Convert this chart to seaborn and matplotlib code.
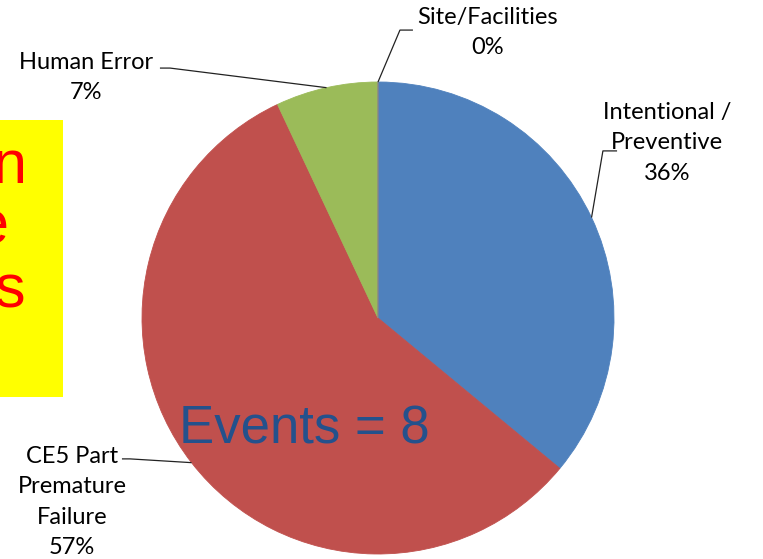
import numpy as np
import matplotlib
matplotlib.use("Agg")
import matplotlib.pyplot as plt
from matplotlib.patches import Rectangle
import seaborn as sns

# ---- data ----
categories = ["Intentional /\nPreventive", "CE5 Part\nPremature\nFailure", "Human Error", "Site/Facilities"]
percents = [36, 57, 7, 0]
events_label = "Events = 8"
side_letters = ["n", "e", "s"]

# ---- style ----
sns.set_theme(style="white")
plt.rcParams['font.family'] = ['Lato', 'DejaVu Sans']
colors = ["#4F81BD", "#C0504D", "#9BBB59", "#8064A2"]

W, H = 763, 559
fig = plt.figure(figsize=(W / 100, H / 100), dpi=100)
fig.patch.set_facecolor("white")

# axes covering whole figure; pie centre at pixel (378, 318), radius 236 px
cx, cy, R = 378, 318, 236
ax = fig.add_axes([0, 0, 1, 1])

wedges, _ = ax.pie(percents, colors=colors, startangle=90, counterclock=False,
                   radius=1.0, center=(0, 0), wedgeprops=dict(linewidth=0.6))
for w in wedges:
    w.set_edgecolor(w.get_facecolor())

ax.set_xlim((0 - cx) / R, (W - cx) / R)
ax.set_ylim((cy - H) / R, cy / R)
ax.set_aspect("equal", adjustable="box")
ax.axis("off")

# yellow box with clipped red text (figure coords)
fig.patches.append(Rectangle((0, 1 - 397 / H), 63 / W, (397 - 120) / H,
                             transform=fig.transFigure, facecolor="#FFFF00",
                             edgecolor="none", zorder=0))
for letter, xr, yb in zip(side_letters, [27, 8, 25], [183, 243, 307]):
    fig.text(xr / W, 1 - yb / H, letter, ha="right", va="baseline",
             color="#FF0000", fontsize=44, family=["Liberation Sans", "DejaVu Sans"])

# labels with leader lines: (bend, end, text centre) in pie units
layout = {
    0: ((0.953, 0.708), (1.013, 0.708), (1.225, 0.743)),
    1: ((-1.051, -0.597), (-1.085, -0.597), (-1.297, -0.780)),
    2: ((-0.881, 1.059), (-0.924, 1.059), (-1.237, 1.018)),
    3: ((0.093, 1.220), (0.148, 1.220), (0.466, 1.210)),
}
for i, w in enumerate(wedges):
    ang = np.deg2rad((w.theta1 + w.theta2) / 2)
    p0 = (np.cos(ang), np.sin(ang))
    bend, end, tpos = layout[i]
    ax.plot([p0[0], bend[0], end[0]], [p0[1], bend[1], end[1]],
            color="#222222", lw=0.9, solid_capstyle="butt", clip_on=False)
    ax.text(tpos[0], tpos[1], f"{categories[i]}\n{percents[i]}%",
            ha="center", va="center", fontsize=17, color="black",
            linespacing=1.55, clip_on=False)

ax.text((179 - cx) / R, (cy - 443) / R, events_label, ha="left", va="baseline",
        fontsize=38, color="#24518C", family=["Liberation Sans", "DejaVu Sans"])

fig.savefig("out.png", dpi=100, facecolor="white")
